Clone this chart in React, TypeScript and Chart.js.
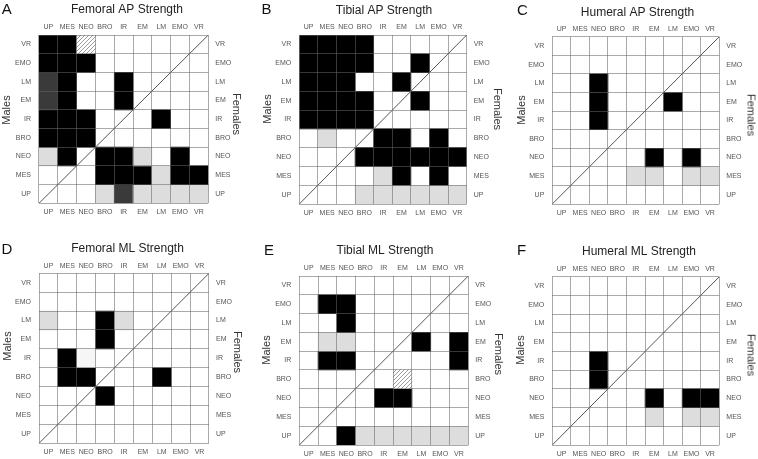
import React, { useEffect, useRef } from 'react';
import { Chart, registerables } from 'chart.js';

Chart.register(...registerables);
Chart.defaults.font.family = '"Liberation Sans", Arial, Helvetica, sans-serif';

// ---------------- DATA ----------------
const columns = ['UP', 'MES', 'NEO', 'BRO', 'IR', 'EM', 'LM', 'EMO', 'VR'];
const rows = ['VR', 'EMO', 'LM', 'EM', 'IR', 'BRO', 'NEO', 'MES', 'UP'];
const panelLetters = ['A', 'B', 'C', 'D', 'E', 'F'];
const panelTitles = [
  'Femoral AP Strength',
  'Tibial AP Strength',
  'Humeral AP Strength',
  'Femoral ML Strength',
  'Tibial ML Strength',
  'Humeral ML Strength',
];
const leftAxisTitle = 'Males';
const rightAxisTitle = 'Females';

// cell codes: 0 = blank, 1 = black, 2 = light grey, 3 = dark grey, 4 = hatched, 5 = faint grey
// rows listed top (VR) to bottom (UP); columns UP..VR
const femoralAP = [
  [1, 1, 4, 0, 0, 0, 0, 0, 0],
  [1, 1, 1, 0, 0, 0, 0, 0, 0],
  [3, 1, 0, 0, 1, 0, 0, 0, 0],
  [3, 1, 0, 0, 1, 0, 0, 0, 0],
  [1, 1, 1, 0, 0, 0, 1, 0, 0],
  [1, 1, 1, 0, 0, 0, 0, 0, 0],
  [2, 1, 0, 1, 1, 2, 0, 1, 0],
  [0, 0, 0, 1, 1, 1, 2, 1, 1],
  [0, 0, 0, 2, 3, 2, 2, 2, 2],
];
const tibialAP = [
  [1, 1, 1, 1, 0, 0, 0, 0, 0],
  [1, 1, 1, 1, 0, 0, 1, 0, 0],
  [1, 1, 1, 0, 0, 1, 0, 0, 0],
  [1, 1, 1, 1, 0, 0, 1, 0, 0],
  [1, 1, 1, 1, 0, 0, 0, 0, 0],
  [0, 2, 0, 0, 1, 1, 0, 1, 0],
  [0, 0, 0, 1, 1, 1, 1, 1, 1],
  [0, 0, 0, 0, 2, 1, 0, 1, 0],
  [0, 0, 0, 2, 2, 2, 2, 2, 2],
];
const humeralAP = [
  [0, 0, 0, 0, 0, 0, 0, 0, 0],
  [0, 0, 0, 0, 0, 0, 0, 0, 0],
  [0, 0, 1, 0, 0, 0, 0, 0, 0],
  [0, 0, 1, 0, 0, 0, 1, 0, 0],
  [0, 0, 1, 0, 0, 0, 0, 0, 0],
  [0, 0, 0, 0, 0, 0, 0, 0, 0],
  [0, 0, 0, 0, 0, 1, 0, 1, 0],
  [0, 0, 0, 0, 2, 2, 0, 2, 2],
  [0, 0, 0, 0, 0, 0, 0, 0, 0],
];
const femoralML = [
  [0, 0, 0, 0, 0, 0, 0, 0, 0],
  [0, 0, 0, 0, 0, 0, 0, 0, 0],
  [2, 0, 0, 1, 2, 0, 0, 0, 0],
  [0, 0, 0, 1, 0, 0, 0, 0, 0],
  [0, 1, 5, 0, 0, 0, 0, 0, 0],
  [0, 1, 1, 0, 0, 0, 1, 0, 0],
  [0, 0, 0, 1, 0, 0, 0, 0, 0],
  [0, 0, 0, 0, 0, 0, 0, 0, 0],
  [0, 0, 0, 0, 0, 0, 0, 0, 0],
];
const tibialML = [
  [0, 0, 0, 0, 0, 0, 0, 0, 0],
  [0, 1, 1, 0, 0, 0, 0, 0, 0],
  [0, 0, 1, 0, 0, 0, 0, 0, 0],
  [0, 2, 2, 0, 0, 0, 1, 0, 1],
  [0, 1, 1, 0, 0, 0, 0, 0, 1],
  [0, 0, 0, 0, 0, 4, 0, 0, 0],
  [0, 0, 0, 0, 1, 1, 0, 0, 0],
  [0, 0, 0, 0, 0, 0, 0, 0, 0],
  [0, 0, 1, 2, 2, 2, 2, 2, 2],
];
const humeralML = [
  [0, 0, 0, 0, 0, 0, 0, 0, 0],
  [0, 0, 0, 0, 0, 0, 0, 0, 0],
  [0, 0, 0, 0, 0, 0, 0, 0, 0],
  [0, 0, 0, 0, 0, 0, 0, 0, 0],
  [0, 0, 1, 0, 0, 0, 0, 0, 0],
  [0, 0, 1, 0, 0, 0, 0, 0, 0],
  [0, 0, 0, 0, 0, 1, 0, 1, 1],
  [0, 0, 0, 0, 0, 2, 0, 2, 2],
  [0, 0, 0, 0, 0, 0, 0, 0, 0],
];
const matrices = [femoralAP, tibialAP, humeralAP, femoralML, tibialML, humeralML];

// ---------------- LAYOUT / STYLE ----------------
type Geo = {
  cL: number; cR: number; cT: number; cH: number;
  gL: number; gR: number; gT: number; gB: number;
  tPad: number;
  lx: number; ly: number;
  mx: number; my: number; fx: number; fy: number;
};
const geometry: Geo[] = [
  { cL: 0, cR: 254, cT: 0, cH: 228, gL: 39, gR: 208.3, gT: 35, gB: 203.3, tPad: 2.5, lx: 1.7, ly: 1.3, mx: 5.5, my: 110, fx: 236, fy: 113.5 },
  { cL: 260, cR: 508, cT: 0, cH: 228, gL: 299.3, gR: 466.7, gT: 35, gB: 204, tPad: 3.3, lx: 261.5, ly: 1.3, mx: 267, my: 108.5, fx: 497, fy: 109 },
  { cL: 516, cR: 759, cT: 0, cH: 228, gL: 552.3, gR: 719.3, gT: 36.7, gB: 204, tPad: 5, lx: 517, ly: 2, mx: 521, my: 110, fx: 751, fy: 115 },
  { cL: 0, cR: 255, cT: 230, cH: 229, gL: 39, gR: 209, gT: 273.3, gB: 443.3, tPad: 10.8, lx: 1.5, ly: 241, mx: 6.5, my: 346, fx: 237, fy: 352 },
  { cL: 260, cR: 510, cT: 230, cH: 229, gL: 299.3, gR: 468.3, gT: 276, gB: 445, tPad: 13, lx: 264, ly: 242, mx: 266, my: 350, fx: 498, fy: 354 },
  { cL: 516, cR: 762, cT: 230, cH: 229, gL: 552.3, gR: 719.3, gT: 276.7, gB: 445, tPad: 14.2, lx: 517, ly: 242, mx: 520, my: 350, fx: 751, fy: 355 },
];

const FONT_FAMILY = '"Liberation Sans", Arial, Helvetica, sans-serif';
const TITLE_SIZE = 12;
const TITLE_LH = 1.25;
const TICK_FONT = { size: 7 };
const TICK_COLOR = '#555';
const GRID_COLOR = 'rgba(100,100,100,0.55)';

function makeHatch(): CanvasPattern | string {
  const c = document.createElement('canvas');
  c.width = 4;
  c.height = 4;
  const g = c.getContext('2d');
  if (!g) return '#ccc';
  g.fillStyle = '#fff';
  g.fillRect(0, 0, 4, 4);
  g.strokeStyle = '#808080';
  g.lineWidth = 0.8;
  g.beginPath();
  g.moveTo(0, 4);
  g.lineTo(4, 0);
  g.moveTo(-1, 1);
  g.lineTo(1, -1);
  g.moveTo(3, 5);
  g.lineTo(5, 3);
  g.stroke();
  const p = g.createPattern(c, 'repeat');
  return p || '#ccc';
}

function AxisTitle({ text, x, y, rot }: { text: string; x: number; y: number; rot: number }) {
  return (
    <div
      style={{
        position: 'absolute',
        left: x,
        top: y,
        transform: `translate(-50%, -50%) rotate(${rot}deg)`,
        fontFamily: FONT_FAMILY,
        fontSize: 11,
        lineHeight: '11px',
        color: '#333',
        whiteSpace: 'nowrap',
      }}
    >
      {text}
    </div>
  );
}

function Panel({ index }: { index: number }) {
  const ref = useRef<HTMLCanvasElement>(null);
  const geo = geometry[index];
  const width = geo.cR - geo.cL;

  useEffect(() => {
    const canvas = ref.current;
    if (!canvas) return;
    const hatch = makeHatch();
    const palette: Record<number, any> = {
      1: '#000000',
      2: '#dddddd',
      3: '#3a3a3a',
      4: hatch,
      5: '#f6f6f6',
    };
    const matrix = matrices[index];
    const nRows = rows.length;

    const barSets: any[] = matrix.map((row, i) => ({
      type: 'bar',
      label: rows[i],
      data: row.map((v) => (v ? [nRows - 1 - i, nRows - i] : null)),
      backgroundColor: row.map((v) => palette[v] || 'rgba(0,0,0,0)'),
      borderWidth: 0,
      grouped: false,
      barPercentage: 1,
      categoryPercentage: 1,
      xAxisID: 'x',
      yAxisID: 'y',
      order: 2,
    }));
    const diagonal: any = {
      type: 'line',
      label: 'diagonal',
      data: [
        { x: 0, y: 0 },
        { x: columns.length, y: nRows },
      ],
      xAxisID: 'xd',
      yAxisID: 'y',
      borderColor: '#555',
      borderWidth: 1,
      pointRadius: 0,
      fill: false,
      order: 1,
    };

    const titleBox = geo.tPad + TITLE_SIZE * TITLE_LH;
    const topH = geo.gT - geo.cT - titleBox;
    const bottomH = geo.cT + geo.cH - geo.gB;
    const leftW = geo.gL - geo.cL;
    const rightW = geo.cR - geo.gR;

    const chart = new Chart(canvas, {
      type: 'bar',
      data: { labels: columns, datasets: [...barSets, diagonal] },
      options: {
        responsive: false,
        maintainAspectRatio: false,
        animation: false,
        events: [],
        layout: { padding: 0 },
        plugins: {
          legend: { display: false },
          tooltip: { enabled: false },
          title: {
            display: true,
            text: panelTitles[index],
            color: '#222',
            font: { size: TITLE_SIZE, weight: 'normal', lineHeight: TITLE_LH },
            padding: { top: geo.tPad, bottom: 0 },
          },
        },
        scales: {
          x: {
            type: 'category',
            axis: 'x',
            position: 'bottom',
            offset: true,
            grid: { offset: true, color: GRID_COLOR, drawTicks: false, z: 1 },
            border: { display: false },
            ticks: { padding: 4.8, font: TICK_FONT, color: TICK_COLOR, autoSkip: false, maxRotation: 0 },
            afterFit: (s: any) => { s.height = bottomH; },
          },
          x2: {
            type: 'category',
            axis: 'x',
            labels: columns,
            position: 'top',
            offset: true,
            grid: { display: false, drawTicks: false },
            border: { display: false },
            ticks: { padding: 3.3, font: TICK_FONT, color: TICK_COLOR, autoSkip: false, maxRotation: 0 },
            afterFit: (s: any) => { s.height = topH; },
          },
          xd: {
            type: 'linear',
            axis: 'x',
            min: 0,
            max: columns.length,
            offset: false,
            grace: 0,
            display: false,
            grid: { offset: false },
          },
          y: { type: 'linear', axis: 'y', min: 0, max: nRows, offset: false, display: false },
          yl: {
            type: 'category',
            axis: 'y',
            labels: rows,
            position: 'left',
            offset: true,
            grid: { offset: true, color: GRID_COLOR, drawTicks: false, z: 1 },
            border: { display: false },
            ticks: { padding: 8, font: TICK_FONT, color: TICK_COLOR, autoSkip: false },
            afterFit: (s: any) => { s.width = leftW; },
          },
          yr: {
            type: 'category',
            axis: 'y',
            labels: rows,
            position: 'right',
            offset: true,
            grid: { display: false, drawTicks: false },
            border: { display: false },
            ticks: { padding: 7, font: TICK_FONT, color: TICK_COLOR, autoSkip: false },
            afterFit: (s: any) => { s.width = rightW; },
          },
        },
      } as any,
    });
    return () => chart.destroy();
  }, [index]);

  return (
    <>
      <canvas
        ref={ref}
        width={width}
        height={geo.cH}
        style={{ position: 'absolute', left: geo.cL, top: geo.cT, width, height: geo.cH }}
      />
      <div
        style={{
          position: 'absolute',
          left: geo.lx,
          top: geo.ly,
          fontFamily: FONT_FAMILY,
          fontSize: 15,
          lineHeight: '15px',
          color: '#111',
        }}
      >
        {panelLetters[index]}
      </div>
      <AxisTitle text={leftAxisTitle} x={geo.mx} y={geo.my} rot={-90} />
      <AxisTitle text={rightAxisTitle} x={geo.fx} y={geo.fy} rot={90} />
    </>
  );
}

export default function App() {
  return (
    <div
      style={{
        position: 'absolute',
        left: 0,
        top: 0,
        width: 758,
        height: 459,
        overflow: 'hidden',
        background: '#fff',
      }}
    >
      {panelTitles.map((_, i) => (
        <Panel key={i} index={i} />
      ))}
    </div>
  );
}
